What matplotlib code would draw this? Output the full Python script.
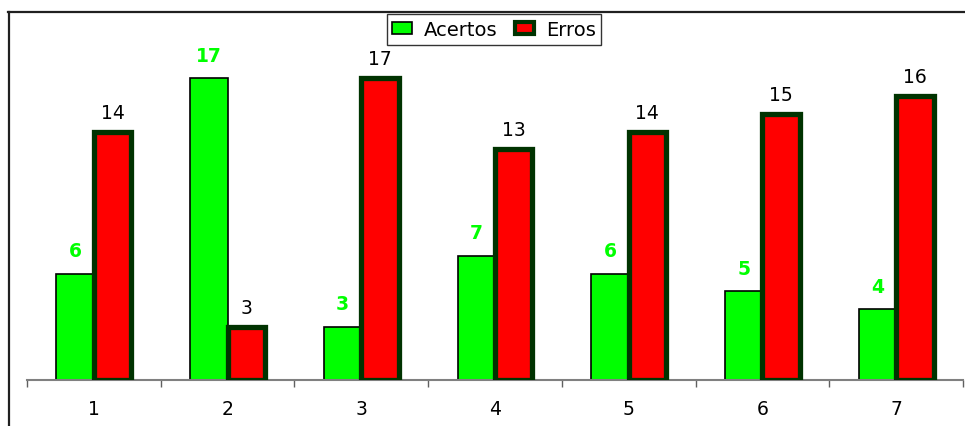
import matplotlib
matplotlib.use("Agg")
import matplotlib.pyplot as plt
from matplotlib.lines import Line2D
from matplotlib.patches import Patch
import numpy as np

plt.rcParams['font.family'] = ['DejaVu Sans']

categories = ["1", "2", "3", "4", "5", "6", "7"]
acertos = [6, 17, 3, 7, 6, 5, 4]
erros = [14, 3, 17, 13, 14, 15, 16]

green = "#00ff00"
red = "#ff0000"
dark_edge = "#003300"

W, H = 965, 427
fig = plt.figure(figsize=(W / 100, H / 100), dpi=100)
ax = fig.add_axes([27 / W, (H - 381) / H, (963 - 27) / W, (381 - 26) / H])

x = np.arange(len(categories))
bw = 0.28
off = 0.14
ax.bar(x - off, acertos, bw, color=green, edgecolor="black", linewidth=1.2, zorder=2)
ax.bar(x + off, erros, bw, color=red, edgecolor=dark_edge, linewidth=3.8, zorder=3)

for xi, v in zip(x, acertos):
    ax.text(xi - off, v + 0.75, str(v), ha="center", va="bottom",
            color=green, fontsize=13.5, fontweight="bold")
for xi, v in zip(x, erros):
    ax.text(xi + off, v + 0.55, str(v), ha="center", va="bottom",
            color="black", fontsize=13.5)

ax.set_xlim(-0.5, len(categories) - 0.5)
ax.set_ylim(0, 20)
ax.set_xticks(x)
ax.set_xticklabels(categories, fontsize=13.5)
ax.tick_params(axis="x", which="major", length=0, pad=14)
ax.set_xticks(np.arange(-0.5, len(categories)), minor=True)
ax.tick_params(axis="x", which="minor", length=5, width=1, color="#606060")
ax.set_yticks([])
for s in ("left", "right", "top"):
    ax.spines[s].set_visible(False)
ax.spines["bottom"].set_color("#808080")
ax.spines["bottom"].set_linewidth(1.5)

handles = [Patch(facecolor=green, edgecolor="black", linewidth=1.2),
           Patch(facecolor=red, edgecolor=dark_edge, linewidth=3)]
leg = fig.legend(handles, ["Acertos", "Erros"], loc="center",
                 bbox_to_anchor=(494 / W, 1 - 30.5 / H), ncol=2, fontsize=14,
                 frameon=True, fancybox=False, edgecolor="black",
                 handlelength=1.0, handleheight=0.55, handletextpad=0.6,
                 columnspacing=0.9, borderpad=0.3, borderaxespad=0)
leg.get_frame().set_linewidth(1.0)

# outer frame: top and left edges
fig.add_artist(Line2D([8 / W, 1], [1 - 12.5 / H, 1 - 12.5 / H], color="#202020", lw=1.6))
fig.add_artist(Line2D([8.5 / W, 8.5 / W], [0, 1 - 12.5 / H], color="#202020", lw=1.6))

fig.savefig("out.png", dpi=100)
